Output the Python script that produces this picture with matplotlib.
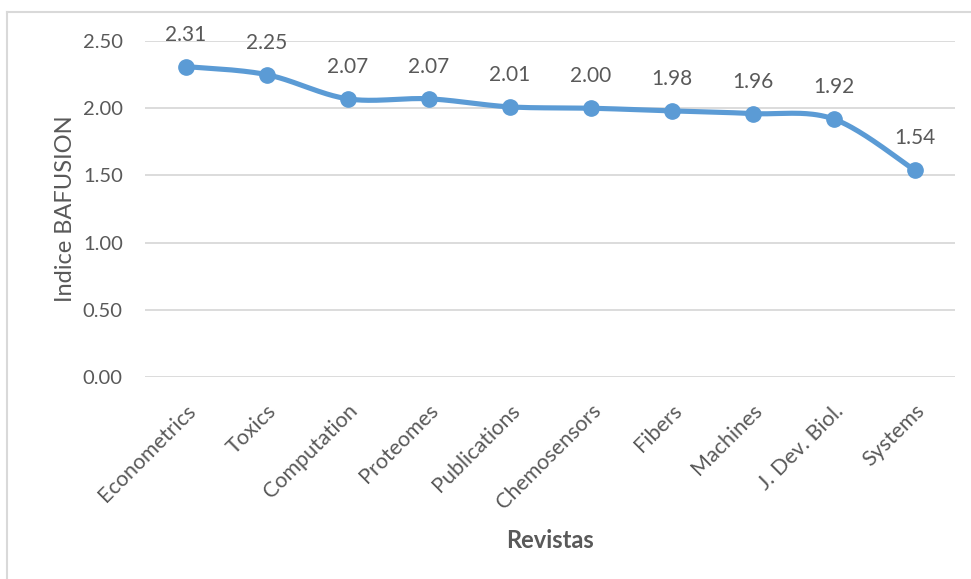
import numpy as np
import matplotlib
matplotlib.use("Agg")
import matplotlib.pyplot as plt
from matplotlib.lines import Line2D

revistas = ["Econometrics", "Toxics", "Computation", "Proteomes", "Publications",
            "Chemosensors", "Fibers", "Machines", "J. Dev. Biol.", "Systems"]
bafusion = [2.31, 2.25, 2.07, 2.07, 2.01, 2.00, 1.98, 1.96, 1.92, 1.54]
y_ticks = [0.0, 0.5, 1.0, 1.5, 2.0, 2.5]

LINE = "#5B9BD5"
TEXT = "#595959"
GRID = "#D9D9D9"

plt.rcParams["font.family"] = ["Lato", "DejaVu Sans"]

W, H = 971, 579
fig = plt.figure(figsize=(W / 100, H / 100), dpi=100)

# chart frame
fig.add_artist(Line2D([7 / W, 7 / W], [0, 1 - 12 / H], transform=fig.transFigure,
                      color=GRID, lw=1.5))
fig.add_artist(Line2D([7 / W, 1], [1 - 12 / H, 1 - 12 / H], transform=fig.transFigure,
                      color=GRID, lw=1.5))

left, right = 145 / W, 955 / W
bottom, top = 1 - 377 / H, 1 - 41 / H
ax = fig.add_axes([left, bottom, right - left, top - bottom])

n = len(revistas)
x = np.arange(n)
ax.set_xlim(-0.5, n - 0.5)
ax.set_ylim(0, 2.5)

for s in ax.spines.values():
    s.set_visible(False)
ax.set_yticks(y_ticks)
ax.set_yticklabels([f"{v:.2f}" for v in y_ticks])
ax.yaxis.grid(True, color=GRID, lw=1.3)
ax.set_axisbelow(True)
ax.tick_params(axis="y", length=0, colors=TEXT, labelsize=14.5, pad=16)
ax.set_xticks(x)
ax.set_xticklabels(revistas, rotation=45, ha="right", rotation_mode="anchor")
ax.tick_params(axis="x", length=0, colors=TEXT, labelsize=15.5, pad=17)

# smoothed line (Catmull-Rom Bezier in display space)
fig.canvas.draw()
pts = ax.transData.transform(np.column_stack([x, bafusion]))
P = np.vstack([pts[0], pts, pts[-1]])
curve = []
t = np.linspace(0, 1, 40)
for i in range(1, len(P) - 2):
    p0, p1, p2, p3 = P[i - 1], P[i], P[i + 1], P[i + 2]
    c1 = p1 + (p2 - p0) / 6
    c2 = p2 - (p3 - p1) / 6
    seg = ((1 - t) ** 3)[:, None] * p1 + (3 * (1 - t) ** 2 * t)[:, None] * c1 \
        + (3 * (1 - t) * t ** 2)[:, None] * c2 + (t ** 3)[:, None] * p2
    curve.append(seg)
curve = np.vstack(curve)
curve_data = ax.transData.inverted().transform(curve)
ax.plot(curve_data[:, 0], curve_data[:, 1], color=LINE, lw=3.7,
        solid_capstyle="round", zorder=3)
ax.plot(x, bafusion, "o", color=LINE, ms=11, zorder=4)

for xi, v in zip(x, bafusion):
    ax.annotate(f"{v:.2f}", (xi, v), xytext=(0, 32), textcoords="offset pixels",
                ha="center", va="center", color=TEXT, fontsize=15)

ax.set_ylabel("Indice BAFUSION", color=TEXT, fontsize=17, labelpad=5)
fig.text((left + right) / 2, 1 - 540 / H, "Revistas", ha="center", va="center",
         color=TEXT, fontsize=17, fontweight="bold")

fig.savefig("out.png", dpi=100)
